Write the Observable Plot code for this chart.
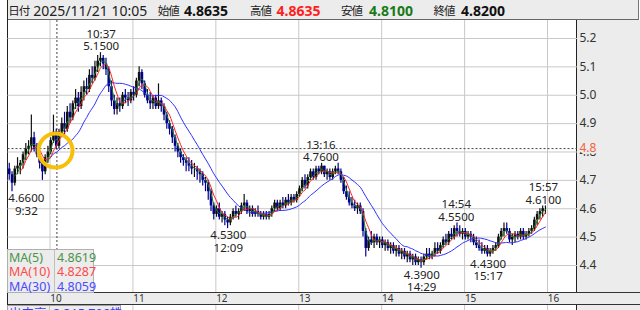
<!DOCTYPE html>
<html><head><meta charset="utf-8">
<script src="https://cdn.jsdelivr.net/npm/d3@7"></script>
<script src="https://cdn.jsdelivr.net/npm/@observablehq/plot@0.6"></script>
<style>
body{margin:0;background:#fff;font-family:"Noto Sans","Noto Sans CJK JP",sans-serif;}
#wrap{position:relative;width:640px;height:310px;overflow:hidden;background:#fff;}
.abs{position:absolute;}
#hdr{left:7px;top:0;width:630px;height:19px;background:#ececec;border-left:1px solid #777;border-right:1px solid #777;border-bottom:1px solid #666;}
.h{position:absolute;top:0;font-size:14px;line-height:21px;color:#222;white-space:nowrap;font-family:"Noto Sans","Noto Sans CJK JP",sans-serif;}
.hl{font-size:11.5px;letter-spacing:-1px;font-family:"Noto Sans CJK JP",sans-serif;}
.hv{font-weight:bold;}
#rpanel{left:576px;top:20px;width:64px;height:290px;background:#ececec;border-left:1px solid #222;box-sizing:border-box;}
#xband{left:7px;top:292px;width:633px;height:13px;background:#ececec;border-top:1px solid #333;border-bottom:1px solid #333;box-sizing:border-box;}
#lborder{left:7px;top:0;width:1px;height:310px;background:#222;}
#legend{left:7px;top:249px;width:87px;height:44px;background:#ececec;border:1px solid #b0b0b0;box-sizing:border-box;font-size:12.5px;}
.lg{position:absolute;white-space:nowrap;line-height:14px;}
#vol{left:7px;top:305px;width:114px;height:20px;background:#ececec;border:1px solid #a0a0a0;box-sizing:border-box;font-size:12.5px;color:#3c3cff;}
svg{position:absolute;left:0;top:20px;}
</style>
</head><body>
<div id="wrap">
  <div id="rpanel" class="abs"></div>
  <div id="xband" class="abs"></div>
  <div id="hdr" class="abs"></div>
  <div id="lborder" class="abs"></div>
</div>
<script>
// ---- header ----
const headerDateLabel = "日付";
const headerDate = "2025/11/21 10:05";
const headerLabels = ["始値", "高値", "安値", "終値"];
const headerValues = ["4.8635", "4.8635", "4.8100", "4.8200"];
const headerColors = ["#111", "#ff1e1e", "#1a7a1a", "#111"];

// ---- price data: 2-minute candles from 9:30 ----
const sessionStart = "9:30";
const barMinutes = 2;
const O = [
4.74,4.72,4.69,4.74,4.75,4.76,4.79,4.81,4.82,4.85,
4.81,4.79,4.76,4.73,4.78,4.80,4.84,4.87,4.82,4.87,
4.90,4.88,4.94,4.92,4.97,4.99,4.96,5.01,5.03,5.02,
5.07,5.06,5.10,5.12,5.13,5.11,5.09,5.03,4.98,4.95,
4.97,4.96,5.00,4.99,4.98,5.01,5.00,5.05,5.08,5.04,
5.00,4.98,4.97,4.99,4.96,4.98,4.96,4.93,4.90,4.88,
4.85,4.82,4.80,4.78,4.77,4.76,4.75,4.74,4.74,4.73,
4.72,4.70,4.69,4.66,4.61,4.58,4.60,4.57,4.58,4.56,
4.55,4.57,4.59,4.58,4.59,4.61,4.62,4.59,4.60,4.58,
4.59,4.58,4.57,4.58,4.57,4.58,4.60,4.62,4.60,4.62,
4.61,4.63,4.62,4.64,4.63,4.65,4.67,4.70,4.68,4.71,
4.73,4.71,4.74,4.73,4.75,4.72,4.73,4.71,4.73,4.74,
4.73,4.70,4.66,4.64,4.62,4.61,4.60,4.61,4.59,4.52,
4.46,4.49,4.48,4.50,4.48,4.49,4.47,4.48,4.46,4.47,
4.45,4.46,4.44,4.45,4.43,4.44,4.42,4.43,4.41,4.42,
4.41,4.43,4.44,4.43,4.44,4.46,4.45,4.47,4.49,4.48,
4.51,4.50,4.53,4.52,4.51,4.52,4.50,4.51,4.50,4.48,
4.47,4.46,4.45,4.46,4.44,4.45,4.46,4.47,4.50,4.52,
4.53,4.52,4.49,4.50,4.51,4.50,4.52,4.50,4.51,4.52,
4.53,4.56,4.58,4.59,4.60];
const Hi = [
4.76,4.73,4.75,4.78,4.77,4.80,4.83,4.84,4.93,4.87,
4.83,4.80,4.77,4.79,4.82,4.85,4.93,4.88,4.88,4.92,
4.94,4.96,4.97,4.98,5.02,5.01,5.03,5.05,5.06,5.09,
5.10,5.12,5.14,5.15,5.14,5.13,5.10,5.05,5.00,4.99,
4.99,5.01,5.02,5.01,5.02,5.03,5.06,5.10,5.09,5.05,
5.02,5.01,5.00,5.00,5.04,4.99,4.97,4.94,4.91,4.89,
4.86,4.83,4.81,4.79,4.78,4.78,4.77,4.76,4.75,4.74,
4.73,4.71,4.70,4.67,4.62,4.61,4.62,4.59,4.59,4.57,
4.58,4.60,4.61,4.60,4.62,4.65,4.63,4.61,4.61,4.60,
4.61,4.59,4.59,4.59,4.59,4.61,4.63,4.63,4.63,4.64,
4.64,4.65,4.65,4.65,4.66,4.68,4.71,4.72,4.72,4.74,
4.74,4.75,4.75,4.76,4.75,4.74,4.74,4.74,4.75,4.76,
4.74,4.71,4.68,4.66,4.64,4.63,4.62,4.62,4.60,4.53,
4.50,4.52,4.51,4.51,4.50,4.50,4.49,4.49,4.48,4.48,
4.47,4.47,4.46,4.46,4.45,4.45,4.44,4.44,4.43,4.43,
4.44,4.46,4.46,4.45,4.48,4.48,4.48,4.50,4.51,4.52,
4.53,4.54,4.55,4.54,4.53,4.53,4.52,4.52,4.51,4.50,
4.49,4.48,4.47,4.47,4.46,4.47,4.48,4.51,4.53,4.55,
4.55,4.53,4.51,4.52,4.52,4.53,4.53,4.52,4.53,4.54,
4.57,4.59,4.60,4.61,4.61];
const Lo = [
4.70,4.66,4.68,4.72,4.72,4.74,4.77,4.79,4.80,4.80,
4.78,4.74,4.70,4.72,4.76,4.79,4.83,4.81,4.81,4.85,
4.86,4.87,4.90,4.91,4.95,4.94,4.95,4.98,5.00,5.01,
5.04,5.05,5.08,5.10,5.09,5.07,5.01,4.96,4.93,4.93,
4.94,4.95,4.97,4.96,4.97,4.98,4.99,5.03,5.02,4.99,
4.97,4.95,4.95,4.95,4.95,4.94,4.91,4.88,4.86,4.83,
4.80,4.78,4.76,4.75,4.73,4.73,4.72,4.71,4.70,4.69,
4.68,4.66,4.63,4.59,4.56,4.57,4.56,4.55,4.54,4.53,
4.54,4.56,4.57,4.56,4.58,4.59,4.58,4.57,4.57,4.57,
4.57,4.56,4.56,4.56,4.56,4.57,4.59,4.59,4.59,4.60,
4.60,4.61,4.61,4.62,4.62,4.64,4.66,4.67,4.67,4.70,
4.70,4.70,4.72,4.72,4.71,4.70,4.70,4.70,4.72,4.72,
4.69,4.65,4.63,4.61,4.60,4.59,4.58,4.58,4.50,4.43,
4.45,4.47,4.46,4.47,4.46,4.46,4.45,4.45,4.44,4.44,
4.43,4.43,4.42,4.42,4.41,4.41,4.40,4.40,4.40,4.39,
4.40,4.42,4.42,4.42,4.43,4.44,4.44,4.46,4.47,4.47,
4.49,4.49,4.50,4.50,4.49,4.49,4.49,4.48,4.47,4.46,
4.45,4.44,4.44,4.43,4.43,4.44,4.45,4.46,4.49,4.50,
4.51,4.48,4.47,4.48,4.49,4.49,4.49,4.49,4.50,4.51,
4.52,4.54,4.56,4.57,4.58];
const Cl = [
4.72,4.69,4.74,4.75,4.76,4.79,4.81,4.82,4.85,4.81,
4.79,4.76,4.73,4.78,4.80,4.84,4.87,4.82,4.87,4.90,
4.88,4.94,4.92,4.97,4.99,4.96,5.01,5.03,5.02,5.07,
5.06,5.10,5.12,5.13,5.11,5.09,5.03,4.98,4.95,4.97,
4.96,5.00,4.99,4.98,5.01,5.00,5.05,5.08,5.04,5.00,
4.98,4.97,4.99,4.96,4.98,4.96,4.93,4.90,4.88,4.85,
4.82,4.80,4.78,4.77,4.76,4.75,4.74,4.74,4.73,4.72,
4.70,4.69,4.66,4.61,4.58,4.60,4.57,4.58,4.56,4.55,
4.57,4.59,4.58,4.59,4.61,4.62,4.59,4.60,4.58,4.59,
4.58,4.57,4.58,4.57,4.58,4.60,4.62,4.60,4.62,4.61,
4.63,4.62,4.64,4.63,4.65,4.67,4.70,4.68,4.71,4.73,
4.71,4.74,4.73,4.75,4.72,4.73,4.71,4.73,4.74,4.73,
4.70,4.66,4.64,4.62,4.61,4.60,4.61,4.59,4.52,4.46,
4.49,4.48,4.50,4.48,4.49,4.47,4.48,4.46,4.47,4.45,
4.46,4.44,4.45,4.43,4.44,4.42,4.43,4.41,4.42,4.41,
4.43,4.44,4.43,4.44,4.46,4.45,4.47,4.49,4.48,4.51,
4.50,4.53,4.52,4.51,4.52,4.50,4.51,4.50,4.48,4.47,
4.46,4.45,4.46,4.44,4.45,4.46,4.47,4.50,4.52,4.53,
4.52,4.49,4.50,4.51,4.50,4.52,4.50,4.51,4.52,4.53,
4.56,4.58,4.59,4.60,4.60];

// ---- moving averages (windows in 2-minute bars ≈ 5/10/30 minutes) ----
const maNames = ["MA(5)", "MA(10)", "MA(30)"];
const maValues = ["4.8619", "4.8287", "4.8059"];
const maWindows = [3, 5, 15];
const maLineColors = ["#1f7f1f", "#ff2020", "#3030ff"];
const maTextColors = ["#4a944a", "#ff4a4a", "#4a4aff"];

// ---- axes ----
const hourLabels = [10, 11, 12, 13, 14, 15, 16];
const priceTicks = [4.4, 4.5, 4.6, 4.7, 4.8, 4.9, 5.0, 5.1, 5.2];

// ---- annotations (session highs/lows) ----
const annTimes = ["9:32", "10:37", "12:09", "13:16", "14:29", "14:54", "15:17", "15:57"];
const annPrices = [4.66, 5.15, 4.53, 4.76, 4.39, 4.55, 4.43, 4.61];
const annKinds = ["low", "high", "low", "high", "low", "high", "low", "high"];

// ---- crosshair / highlight ----
const crossTime = "10:05";
const crossPrice = 4.812;
const crossLabel = "4.8";
const circleTime = "10:04";
const circlePrice = 4.805;

// ---- volume panel label ----
const volLabel = "出来高";
const volValue = "2,315,796株";

// helpers
const toMin = s => { const [h, m] = s.split(":").map(Number); return (h - 9) * 60 + m; };

const W = 640, Hh = 290, ML = 7.5, MR = 63, MT = 0, MB = 18;
const xDomain = [29.6, 441.7];
const yDomain = [4.3048, 5.2634];
const xs = Plot.scale({x: {domain: xDomain, range: [ML, W - MR]}});
const ys = Plot.scale({y: {domain: yDomain, range: [Hh - MB, MT]}});

const t0 = toMin(sessionStart);
const candles = Cl.map((c, i) => ({t: t0 + barMinutes * i + 0.5, o: O[i], h: Hi[i], l: Lo[i], c, up: c >= O[i]}));
const maSeries = maWindows.map((k, j) => {
  const out = [];
  for (let i = k - 1; i < Cl.length; i++) out.push({t: candles[i].t, v: d3.mean(Cl.slice(i - k + 1, i + 1)), j});
  return out;
});
const anns = annTimes.map((s, i) => {
  const t = toMin(s);
  const half = 18.3;
  const tx = Math.min(Math.max(t, xs.invert(ML + half)), xs.invert(W - MR - half));
  const p = annPrices[i].toFixed(4);
  return {t: tx, p: annPrices[i], kind: annKinds[i], text: annKinds[i] === "high" ? `${s}\n${p}` : `${p}\n${s}`};
});
const hours = hourLabels.map(h => (h - 9) * 60);

const grid = "#c8c8c8";
const upColor = "#111", downColor = "#00008c";
const chart = Plot.plot({
  width: W, height: Hh,
  marginLeft: ML, marginRight: MR, marginTop: MT, marginBottom: MB,
  x: {domain: xDomain, axis: null},
  y: {domain: yDomain, axis: null},
  style: {background: "transparent", fontFamily: '"Noto Sans", sans-serif', overflow: "visible"},
  marks: [
    Plot.ruleY(priceTicks, {stroke: grid}),
    Plot.ruleX(hours, {stroke: grid}),
    Plot.ruleX(hours, {y1: ys.invert(Hh - MB + 13), y2: ys.invert(Hh), stroke: grid}),
    Plot.ruleX([toMin(crossTime)], {stroke: "#444", strokeDasharray: "2,2"}),
    Plot.ruleY([crossPrice], {stroke: "#444", strokeDasharray: "2,2"}),
    Plot.ruleX(candles, {x: "t", y1: "l", y2: "h", stroke: d => d.up ? upColor : downColor, strokeWidth: 1.2}),
    Plot.ruleX(candles, {x: "t", y1: "o", y2: "c", stroke: d => d.up ? upColor : downColor, strokeWidth: 2.6}),
    Plot.line(maSeries[2], {x: "t", y: "v", stroke: maLineColors[2], strokeWidth: 1, curve: "monotone-x"}),
    Plot.line(maSeries[1], {x: "t", y: "v", stroke: maLineColors[1], strokeWidth: 1, curve: "monotone-x"}),
    Plot.line(maSeries[0], {x: "t", y: "v", stroke: maLineColors[0], strokeWidth: 1, curve: "monotone-x"}),
    Plot.text(anns.filter(d => d.kind === "high"), {x: "t", y: "p", text: "text", dy: -12.5, lineAnchor: "middle", lineHeight: 1.08, fontSize: 11.5, fill: "#222"}),
    Plot.text(anns.filter(d => d.kind === "low"), {x: "t", y: "p", text: "text", dy: 12.8, lineAnchor: "middle", lineHeight: 1.08, fontSize: 11.5, fill: "#222"}),
    Plot.text(priceTicks, {y: d => d, text: d => d.toFixed(1), frameAnchor: "right", textAnchor: "start", dx: 2, fontSize: 12, fill: "#333"}),
    Plot.text([crossPrice], {y: d => d, text: () => crossLabel, frameAnchor: "right", textAnchor: "start", dx: 2, fontSize: 12, fill: "#f4623a", stroke: "#ececec", strokeWidth: 4}),
    Plot.text(hours, {x: d => d, text: (d, i) => String(hourLabels[i]), frameAnchor: "bottom", dy: 6.5, dx: 6, fontSize: 10, fill: "#333", lineAnchor: "middle"}),
    Plot.dot([{t: toMin(circleTime), p: circlePrice}], {x: "t", y: "p", r: 17, stroke: "#f8bf0a", strokeWidth: 4, fill: "none"})
  ]
});
const wrap = document.getElementById("wrap");
wrap.appendChild(chart);

// header (positions relative to header box)
const hdr = document.getElementById("hdr");
const hpos = [[0.3, 25.3], [149.8, 176], [242, 268.6], [333, 361], [425.6, 453]];
function span(txt, left, cls, color) {
  const s = document.createElement("span");
  s.className = "h " + (cls || "");
  s.textContent = txt; s.style.left = left + "px";
  if (color) s.style.color = color;
  hdr.appendChild(s);
}
span(headerDateLabel, hpos[0][0], "hl");
span(headerDate, hpos[0][1]);
headerLabels.forEach((l, i) => {
  span(l, hpos[i + 1][0], "hl");
  span(headerValues[i], hpos[i + 1][1], "hv", headerColors[i]);
});

// legend
const lg = document.createElement("div");
lg.id = "legend"; lg.className = "abs";
const div = document.createElement("div");
div.style.cssText = "position:absolute;left:46px;top:0;width:1px;height:100%;background:#c0c0c0";
lg.appendChild(div);
maNames.forEach((n, i) => {
  const a = document.createElement("div");
  a.className = "lg"; a.textContent = n; a.style.left = "1px"; a.style.top = (1 + i * 14.4) + "px"; a.style.color = maTextColors[i];
  const b = document.createElement("div");
  b.className = "lg"; b.textContent = maValues[i]; b.style.left = "49px"; b.style.top = (1 + i * 14.4) + "px"; b.style.color = maTextColors[i];
  lg.appendChild(a); lg.appendChild(b);
});
wrap.appendChild(lg);

// volume label
const vol = document.createElement("div");
vol.id = "vol"; vol.className = "abs";
vol.innerHTML = `<div class="lg" style="left:1px;top:1px">${volLabel}</div><div style="position:absolute;left:41px;top:0;width:1px;height:100%;background:#c0c0c0"></div><div class="lg" style="left:45px;top:1px">${volValue}</div>`;
wrap.appendChild(vol);
</script>
</body></html>
